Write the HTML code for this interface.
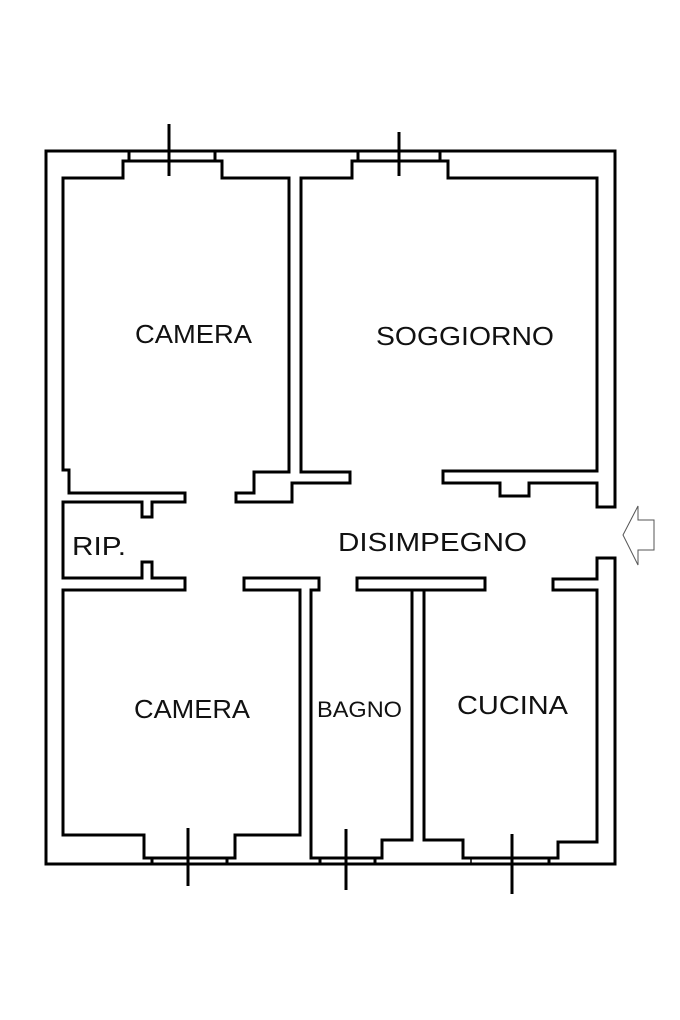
<!DOCTYPE html>
<html><head><meta charset="utf-8"><style>html,body{margin:0;padding:0;background:#fff}svg{display:block}</style></head>
<body>
<svg width="680" height="1020" viewBox="0 0 680 1020" xmlns="http://www.w3.org/2000/svg">
<g fill="none" stroke="#000" stroke-width="3" stroke-linejoin="miter">
<path d="M615,507 L615,151 L46,151 L46,864 L615,864 L615,558 L597,558 L597,579 L553,579 L553,590 L597,590 L597,842 L558,842 L558,858 L463,858 L463,840 L424,840 L424,590 L357,590 L357,578 L485,578 L485,590 L412,590 L412,840 L382,840 L382,858 L311,858 L311,590 L319,590 L319,578 L244,578 L244,590 L300,590 L300,835 L235,835 L235,858 L144,858 L144,835 L63,835 L63,590 L185,590 L185,578 L152,578 L152,562 L142,562 L142,578 L63,578 L63,502 L142,502 L142,517 L152,517 L152,502 L185,502 L185,493 L69,493 L69,470 L63,470 L63,178 L123,178 L123,161 L222,161 L222,178 L289,178 L289,472 L254,472 L254,493 L236,493 L236,502 L292,502 L292,483 L350,483 L350,472 L301,472 L301,178 L352,178 L352,161 L448,161 L448,178 L597,178 L597,471 L443,471 L443,483 L500,483 L500,496 L529,496 L529,483 L597,483 L597,507 Z"/>
<path d="M129,151V161M215,151V161M358,151V161M440,151V161M152,858V864M227,858V864M320,858V864M375,858V864M549,858V864"/>
<path d="M471,858V864" stroke-width="1.5"/>
<path d="M169,124V176M399,132V176M188,828V886M346,829V890M512,834V894"/>
</g>
<polygon points="623,535 638,506 638,520 654,520 654,550 638,550 638,565" fill="none" stroke="#555" stroke-width="1"/>
<g font-family="Liberation Sans, sans-serif" fill="#111" font-size="26">
<text x="135" y="343" textLength="117" lengthAdjust="spacingAndGlyphs">CAMERA</text>
<text x="376" y="345" textLength="178" lengthAdjust="spacingAndGlyphs">SOGGIORNO</text>
<text x="338" y="551" textLength="189" lengthAdjust="spacingAndGlyphs">DISIMPEGNO</text>
<text x="72" y="555" textLength="54" lengthAdjust="spacingAndGlyphs">RIP.</text>
<text x="134" y="718" textLength="116" lengthAdjust="spacingAndGlyphs">CAMERA</text>
<text x="317" y="717" font-size="22" textLength="85" lengthAdjust="spacingAndGlyphs">BAGNO</text>
<text x="457" y="714" textLength="111" lengthAdjust="spacingAndGlyphs">CUCINA</text>
</g>
</svg>
</body></html>
